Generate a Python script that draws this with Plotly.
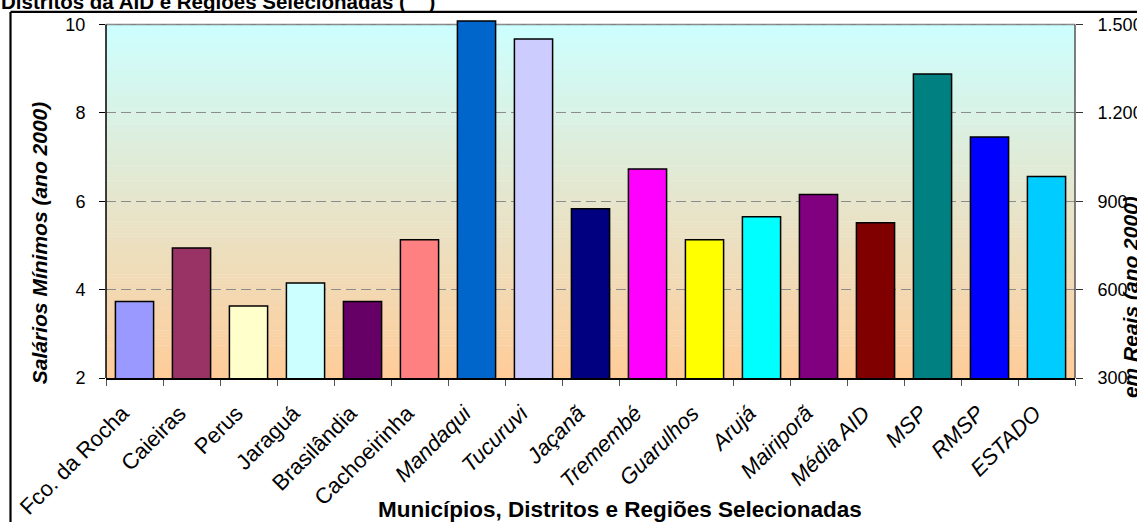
import plotly.graph_objects as go

# ---------------- data ----------------
categories = ["Fco. da Rocha", "Caieiras", "Perus", "Jaraguá", "Brasilândia", "Cachoeirinha",
              "Mandaqui", "Tucuruvi", "Jaçanã", "Tremembé", "Guarulhos", "Arujá",
              "Mairiporã", "Média AID", "MSP", "RMSP", "ESTADO"]
salarios_minimos = [3.73, 4.94, 3.63, 4.15, 3.73, 5.13,
                    10.08, 9.67, 5.83, 6.73, 5.13, 5.65,
                    6.15, 5.51, 8.88, 7.45, 6.56]
bar_colors = ["#9999FF", "#993366", "#FFFFCC", "#CCFFFF", "#660066", "#FF8080",
              "#0066CC", "#CCCCFF", "#000080", "#FF00FF", "#FFFF00", "#00FFFF",
              "#800080", "#800000", "#008080", "#0000FF", "#00CCFF"]
italic_labels = [False] * 6 + [True] * 11
left_ticks = [2, 4, 6, 8, 10]
right_ticks = [300, 600, 900, 1200, 1500]
right_ticktext = ["300", "600", "900", "1.200", "1.500"]

FONT = "Liberation Sans, Arial, sans-serif"
W, H = 1137, 522
Y_MIN, Y_MAX, Y_TOP = 2, 10, 10.1          # axis range extends a bit so the tallest bar shows
R_PER_UNIT = (right_ticks[-1] - right_ticks[0]) / (Y_MAX - Y_MIN)
X_LEFT, X_RIGHT, Y_BOTTOM_PX, Y_TOP_PX = 106, 1075, 378, 24
PH = (Y_BOTTOM_PX - Y_TOP_PX) * (Y_TOP - Y_MIN) / (Y_MAX - Y_MIN)
ML, MR = X_LEFT, W - X_RIGHT
MB = H - Y_BOTTOM_PX
MT = H - MB - PH
PW = W - ML - MR


def px_x(p):
    return (p - ML) / PW


def px_y(p):
    return (H - MB - p) / PH


ticktext = [f"<i>{c}</i>" if it else c for c, it in zip(categories, italic_labels)]

fig = go.Figure()
fig.add_trace(go.Bar(
    x=categories, y=salarios_minimos,
    marker=dict(color=bar_colors, line=dict(color="#000000", width=1.5)),
    showlegend=False, hoverinfo="x+y",
))
# invisible trace to activate the secondary (R$) axis
fig.add_trace(go.Scatter(x=[categories[0]], y=[right_ticks[0]], yaxis="y2",
                         mode="markers", marker=dict(opacity=0), showlegend=False,
                         hoverinfo="skip"))

shapes = []
# gradient background of the plot area (cyan top -> peach bottom)
n = 120
top = (204, 255, 255)
bot = (255, 204, 153)
for i in range(n):
    t = (i + 0.5) / n
    c = tuple(round(bot[k] + (top[k] - bot[k]) * t) for k in range(3))
    y0 = Y_MIN + (Y_MAX - Y_MIN) * i / n
    y1 = Y_MIN + (Y_MAX - Y_MIN) * (i + 1) / n
    shapes.append(dict(type="rect", xref="x domain", yref="y",
                       x0=0, x1=1, y0=y0, y1=min(y1 + 0.01, Y_MAX),
                       fillcolor=f"rgb{c}", line=dict(width=0), layer="below"))
# top border (solid gray), left axis line (black), right axis line (gray)
shapes.append(dict(type="line", xref="x domain", yref="y", x0=0, x1=1, y0=Y_MAX, y1=Y_MAX,
                   line=dict(color="#808080", width=1.5), layer="below"))
shapes.append(dict(type="line", xref="x domain", yref="y", x0=0, x1=0, y0=Y_MIN, y1=Y_MAX,
                   line=dict(color="#000000", width=1.5), layer="above"))
shapes.append(dict(type="line", xref="x domain", yref="y", x0=1, x1=1, y0=Y_MIN, y1=Y_MAX,
                   line=dict(color="#555555", width=1.5), layer="above"))
# outer chart border (top and left)
shapes.append(dict(type="line", xref="paper", yref="paper",
                   x0=px_x(10.5), x1=px_x(W + 20), y0=px_y(11.5), y1=px_y(11.5),
                   line=dict(color="#000000", width=2.2), layer="above"))
shapes.append(dict(type="line", xref="paper", yref="paper",
                   x0=px_x(10.5), x1=px_x(10.5), y0=px_y(11.5), y1=px_y(H + 20),
                   line=dict(color="#000000", width=2.2), layer="above"))

annotations = [
    dict(text="<b>Distritos da AID e Regiões Selecionadas (    )</b>",
         xref="paper", yref="paper", x=px_x(-1), y=px_y(15),
         xanchor="left", yanchor="bottom", showarrow=False,
         font=dict(family=FONT, size=20.5, color="#000000")),
    dict(text="<b><i>Salários Mínimos (ano 2000)</i></b>",
         xref="paper", yref="paper", x=px_x(39), y=px_y(243),
         xanchor="center", yanchor="middle", textangle=-90, showarrow=False,
         font=dict(family=FONT, size=21, color="#000000")),
    dict(text="<b><i>em Reais (ano 2000)</i></b>",
         xref="paper", yref="paper", x=px_x(1130), y=px_y(297),
         xanchor="center", yanchor="middle", textangle=-90, showarrow=False,
         font=dict(family=FONT, size=21, color="#000000")),
    dict(text="<b>Municípios, Distritos e Regiões Selecionadas</b>",
         xref="paper", yref="paper", x=px_x(620), y=px_y(510),
         xanchor="center", yanchor="middle", showarrow=False,
         font=dict(family=FONT, size=22.5, color="#000000")),
]

fig.update_layout(
    width=W, height=H,
    margin=dict(l=ML, r=MR, t=MT, b=MB, pad=0, autoexpand=False),
    paper_bgcolor="#FFFFFF", plot_bgcolor="rgba(0,0,0,0)",
    font=dict(family=FONT, size=18, color="#000000"),
    bargap=0.33,
    showlegend=False,
    shapes=shapes,
    annotations=annotations,
    xaxis=dict(
        type="category", tickmode="array", tickvals=categories, ticktext=ticktext,
        tickangle=-45, ticks="outside", tickson="boundaries", ticklen=6,
        tickcolor="#555555", showline=True, linecolor="#000000", linewidth=1.5,
        showgrid=False, tickfont=dict(family=FONT, size=22, color="#000000"),
        ticklabelstandoff=12, ticklabelshift=-12,
        range=[-0.5, len(categories) - 0.5], fixedrange=True, automargin=False,
    ),
    yaxis=dict(
        range=[Y_MIN, Y_TOP], tickmode="array", tickvals=left_ticks,
        ticks="outside", ticklen=6, tickcolor="#000000",
        showline=False, automargin=False,
        showgrid=True, gridcolor="#8C8C8C", griddash="10px,5px", gridwidth=1,
        zeroline=False, ticklabelstandoff=10,
        tickfont=dict(family=FONT, size=18, color="#000000"),
    ),
    yaxis2=dict(
        overlaying="y", side="right", automargin=False,
        range=[right_ticks[0], right_ticks[0] + R_PER_UNIT * (Y_TOP - Y_MIN)],
        tickmode="array", tickvals=right_ticks, ticktext=right_ticktext,
        ticks="outside", ticklen=7, tickcolor="#333333",
        showline=False, showgrid=False, zeroline=False, ticklabelstandoff=11,
        tickfont=dict(family=FONT, size=18, color="#000000"),
    ),
)

fig.write_html("out.html")
